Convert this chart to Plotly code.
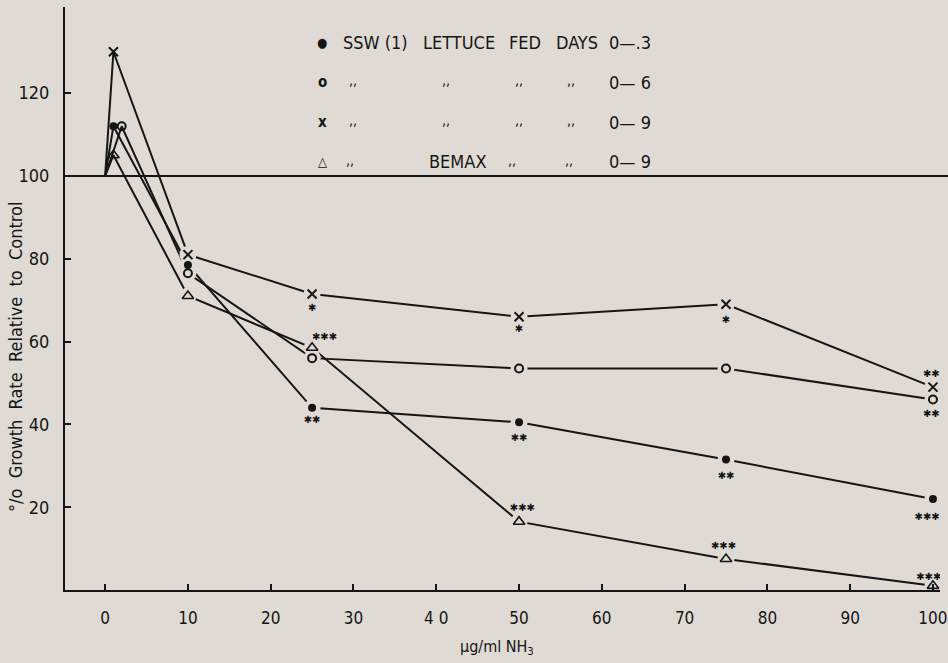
import plotly.graph_objects as go

# ---------------- data ----------------
conc_ssw_0_3 = [0, 1, 10, 25, 50, 75, 100]
ssw_0_3 = [100, 112, 78.5, 44, 40.5, 31.5, 22]

conc_ssw_0_6 = [0, 2, 10, 25, 50, 75, 100]
ssw_0_6 = [100, 112, 76.5, 56, 53.5, 53.5, 46]

conc_ssw_0_9 = [0, 1, 10, 25, 50, 75, 100]
ssw_0_9 = [100, 130, 81, 71.5, 66, 69, 49]

conc_bemax_0_9 = [0, 1, 10, 25, 50, 75, 100]
bemax_0_9 = [100, 105, 71, 58.5, 16.5, 7.5, 1]

# significance marks
sig_x = [25, 26.5, 25, 50, 50, 50.4, 75, 75, 74.7, 99.8, 99.8, 99.3, 99.5]
sig_y = [68, 61, 41, 63, 36.5, 19.6, 65, 27.5, 10.5, 52, 42.5, 17.5, 3]
sig_labels = ["*", "***", "**", "*", "**", "***", "*", "**", "***", "**", "**", "***", "***"]

x_ticks = [0, 10, 20, 30, 40, 50, 60, 70, 80, 90, 100]
x_tick_labels = ["0", "10", "20", "30", "4 0", "50", "60", "70", "80", "90", "100"]
y_ticks = [20, 40, 60, 80, 100, 120]
control_level = 100

# ---------------- style ----------------
BG = "#dfdbd4"
INK = "#151515"
FONT = "Liberation Sans Narrow, DejaVu Sans Condensed, Liberation Sans, sans-serif"

series = [
    (conc_ssw_0_3, ssw_0_3, dict(symbol="circle", size=8, color=INK)),
    (conc_ssw_0_6, ssw_0_6, dict(symbol="circle-open", size=8, color=INK, line=dict(width=2, color=INK))),
    (conc_ssw_0_9, ssw_0_9, dict(symbol="x-thin-open", size=9, color=INK, line=dict(width=2, color=INK))),
    (conc_bemax_0_9, bemax_0_9, dict(symbol="triangle-up-open", size=10, color=INK, line=dict(width=1.6, color=INK))),
]

fig = go.Figure()

# connecting lines
for xs, ys, _ in series:
    fig.add_trace(go.Scatter(x=xs, y=ys, mode="lines", line=dict(color=INK, width=2),
                             hoverinfo="skip", showlegend=False))

# background halos producing small gaps between lines and markers
for xs, ys, _ in series:
    hx = [a for a in xs if a >= 10]
    hy = [b for a, b in zip(xs, ys) if a >= 10]
    fig.add_trace(go.Scatter(x=hx, y=hy, mode="markers",
                             marker=dict(symbol="circle", size=17, color=BG),
                             hoverinfo="skip", showlegend=False))

# markers
for xs, ys, mk in series:
    fig.add_trace(go.Scatter(x=xs[1:], y=ys[1:], mode="markers", marker=mk, showlegend=False))

# significance asterisks
fig.add_trace(go.Scatter(
    x=sig_x, y=sig_y, mode="text",
    text=[s.replace("*", "\u2731") for s in sig_labels],
    textfont=dict(family="DejaVu Sans", size=10, color=INK),
    textposition="middle center", showlegend=False, hoverinfo="skip"))

# control line
fig.add_shape(type="line", xref="paper", yref="y", x0=0, x1=1.02,
              y0=control_level, y1=control_level, line=dict(color=INK, width=2))

# ---------------- layout ----------------
L, R, T, B = 65, 8, 7, 73
W, H = 948, 663
PW, PH = W - L - R, H - T - B


def px(xp):
    return (xp - L) / PW


def py(yp):
    return (H - B - yp) / PH


ann = []


def txt(s, xp, yp, anchor="left", size=18, yshift=0):
    ann.append(dict(text=s, x=px(xp), y=py(yp), xref="paper", yref="paper",
                    xanchor=anchor, yanchor="middle", showarrow=False, yshift=yshift,
                    font=dict(family=FONT, size=size, color=INK)))


rows = [43, 82, 122, 162]
txt("\u25cf", 322, rows[0], "center", 13)
txt("SSW (1)", 341, rows[0], size=18)
txt("LETTUCE", 421, rows[0], size=18)
txt("FED", 507, rows[0], size=18)
txt("DAYS", 554, rows[0], size=18)
txt("0\u2014.3", 607, rows[0], size=18)

txt("<b>o</b>", 322, rows[1], "center", 15)
txt("<b>x</b>", 322, rows[2], "center", 15)
txt("<b>\u25b3</b>", 322, rows[3], "center", 13)
for r, end in zip(rows[1:3], ["0\u2014 6", "0\u2014 9"]):
    for cx in [353, 446, 519, 571]:
        txt(",,", cx, r, "center", 14, yshift=2)
    txt(end, 607, r, size=18)
for cx in [350, 512, 569]:
    txt(",,", cx, rows[3], "center", 14, yshift=2)
txt("BEMAX", 427, rows[3], size=18)
txt("0\u2014 9", 607, rows[3], size=18)

# axis titles
ann.append(dict(text="\u00b5g/ml NH<sub>3</sub>", x=px(497), y=py(647), xref="paper", yref="paper",
                xanchor="center", yanchor="middle",
                showarrow=False, font=dict(family=FONT, size=16, color=INK)))
ann.append(dict(text="\u00b0/o  Growth  Rate  Relative  to  Control", x=px(15), y=py(357),
                xref="paper", yref="paper", xanchor="center", yanchor="middle",
                textangle=-90, showarrow=False,
                font=dict(family=FONT, size=18, color=INK)))

fig.update_layout(
    width=W, height=H,
    margin=dict(l=L, r=R, t=T, b=B, autoexpand=False),
    paper_bgcolor=BG, plot_bgcolor=BG,
    showlegend=False,
    annotations=ann,
    xaxis=dict(range=[-4.85, 100.85], tickvals=x_ticks, ticktext=x_tick_labels,
               ticks="inside", ticklen=6, tickwidth=1.5, tickcolor=INK,
               showline=True, linecolor=INK, linewidth=2, showgrid=False, zeroline=False,
               ticklabeloverflow="allow", automargin=False,
               tickfont=dict(family=FONT, size=17, color=INK), ticklabelstandoff=12),
    yaxis=dict(range=[0, 140.8], tickvals=y_ticks,
               ticks="inside", ticklen=6, tickwidth=1.5, tickcolor=INK,
               showline=True, linecolor=INK, linewidth=2, showgrid=False, zeroline=False,
               automargin=False,
               tickfont=dict(family=FONT, size=18, color=INK), ticklabelstandoff=10),
)

fig.write_html("out.html", config={"displayModeBar": False},
               post_script="document.body.style.margin='0px';")
